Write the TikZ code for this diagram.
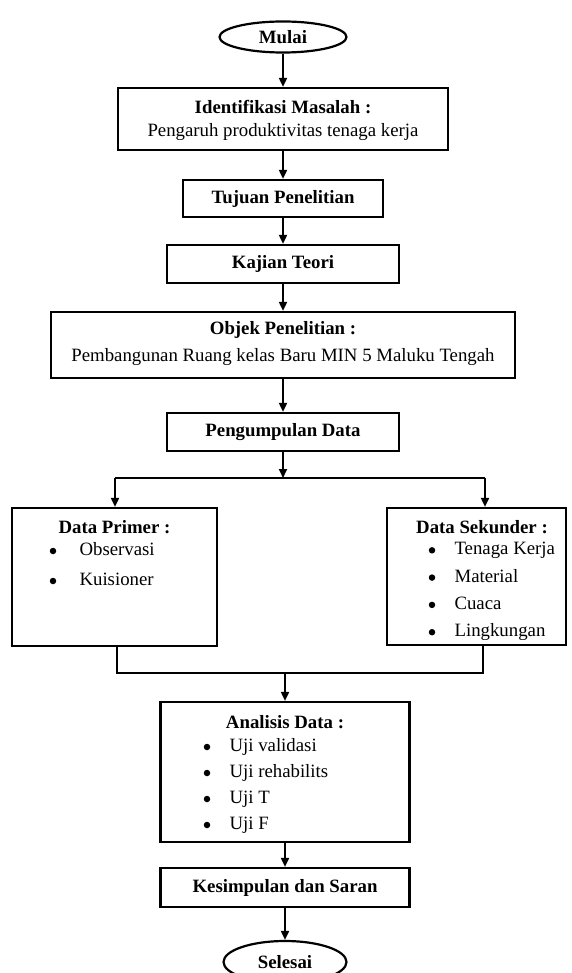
\documentclass[tikz,border=0pt]{standalone}
\usepackage{fontspec}
\setmainfont{Liberation Serif}
\usetikzlibrary{shapes.geometric,arrows.meta}

\begin{document}
\begin{tikzpicture}[x=1pt,y=-1pt,
  every node/.style={font=\fontsize{18.8}{22}\selectfont},
  box/.style={draw,line width=2.2pt,inner sep=0pt},
  bf/.style={font=\fontsize{18.8}{22}\selectfont\bfseries},
  oval/.style={draw,ellipse,line width=2.2pt,inner sep=0pt,bf},
  dot/.style={circle,fill,inner sep=0pt,minimum size=6.5pt},
  item/.style={anchor=west,text height=13pt,text depth=4pt},
  arr/.style={line width=1.8pt,-{Triangle[length=9pt,width=8pt]}},
  ln/.style={line width=1.8pt}]

\useasboundingbox (0,0) rectangle (571,973);

\node[oval,minimum width=127pt,minimum height=31pt] (mulai) at (283,37) {Mulai};
\node[box,minimum width=330pt,minimum height=62pt] (ident) at (283,119) {};
\node[bf] (identT) at (283,107) {Identifikasi Masalah :};
\node (identS) at (283,132) {Pengaruh produktivitas tenaga kerja};
\node[box,bf,minimum width=200pt,minimum height=37pt] (tujuan) at (283,198.5) {Tujuan Penelitian};
\node[box,bf,minimum width=232pt,minimum height=38pt] (kajian) at (283,264) {Kajian Teori};
\node[box,minimum width=464pt,minimum height=66pt] (objek) at (283,345) {};
\node[bf] (objekT) at (283,330) {Objek Penelitian :};
\node (objekS) at (283,357) {Pembangunan Ruang kelas Baru MIN 5 Maluku Tengah};
\node[box,bf,minimum width=232pt,minimum height=38pt] (kumpul) at (283,432) {Pengumpulan Data};

% data primer dan sekunder
\node[box,minimum width=205pt,minimum height=138pt] (primer) at (114.5,577) {};
\node[bf] (primerT) at (114.5,527) {Data Primer :};
\foreach \t [count=\i] in {Observasi,Kuisioner} {
  \node[dot] (pb\i) at (53,521+30*\i) {};
  \node[item] (p\i) at (76,521+30*\i) {\t};
}
\node[box,minimum width=179pt,minimum height=137pt] (sekunder) at (476.5,576.5) {};
\node[bf] (sekunderT) at (482,527) {Data Sekunder :};
\foreach \t [count=\i] in {Tenaga Kerja,Material,Cuaca,Lingkungan} {
  \node[dot] (sb\i) at (432,523+27.3*\i) {};
  \node[item] (s\i) at (451,523+27.3*\i) {\t};
}

% analisis
\node[box,minimum width=249pt,minimum height=140pt] (analisis) at (285,772) {};
\node[bf] (analisisT) at (285,722) {Analisis Data :};
\foreach \t [count=\i] in {Uji validasi,Uji rehabilits,Uji T,Uji F} {
  \node[dot] (ab\i) at (207,721+26*\i) {};
  \node[item] (a\i) at (226,721+26*\i) {\t};
}
\node[box,bf,minimum width=249pt,minimum height=39pt] (simpul) at (285,887.5) {Kesimpulan dan Saran};
\node[oval,minimum width=123pt,minimum height=42pt] (selesai) at (285,962) {Selesai};

\coordinate (jl) at (115,478);
\coordinate (jr) at (485,478);
\coordinate (ml) at (117,673);
\coordinate (mr) at (483,673);

\draw[arr] (mulai) -- (ident);
\draw[arr] (ident) -- (tujuan);
\draw[arr] (tujuan) -- (kajian);
\draw[arr] (kajian) -- (objek);
\draw[arr] (objek) -- (kumpul);
\draw[arr] (kumpul) -- (kumpul |- jl);
\draw[ln] (jl) -- (jr);
\draw[arr] (jl) -- (jl |- primer.north);
\draw[arr] (jr) -- (jr |- sekunder.north);
\draw[ln] (ml |- primer.south) -- (ml) -- (mr) -- (mr |- sekunder.south);
\draw[arr] (ml -| analisis) -- (analisis);
\draw[arr] (analisis) -- (simpul);
\draw[arr] (simpul) -- (selesai);

\end{tikzpicture}
\end{document}
